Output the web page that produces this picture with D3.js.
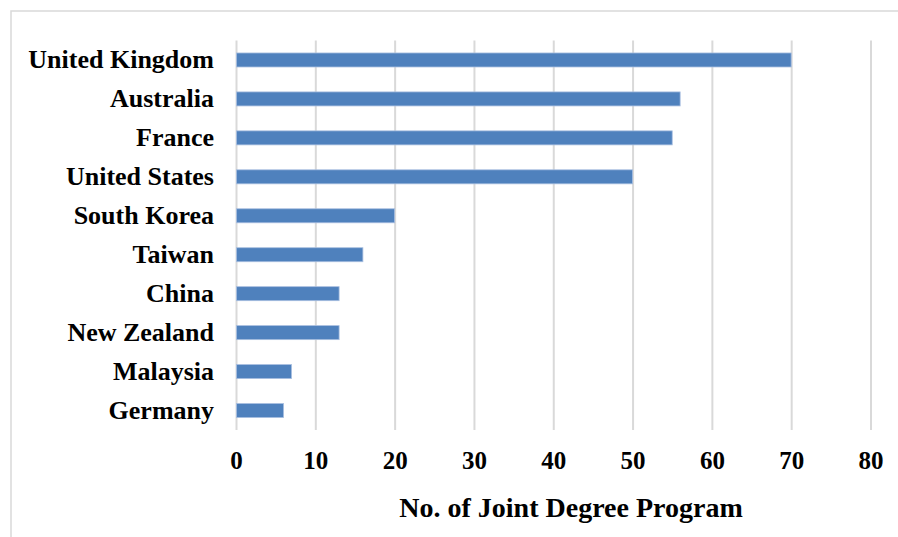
<!DOCTYPE html>
<html>
<head>
<meta charset="utf-8">
<script src="https://cdn.jsdelivr.net/npm/d3@7"></script>
<style>
html,body{margin:0;padding:0;background:#fff;}
svg{display:block;}
text{font-family:"Liberation Serif","Times New Roman",serif;font-weight:bold;fill:#000;}
</style>
</head>
<body>
<svg id="chart" width="898" height="537"></svg>
<script>
const categories = ["United Kingdom","Australia","France","United States","South Korea","Taiwan","China","New Zealand","Malaysia","Germany"];
const values = [70,56,55,50,20,16,13,13,7,6];
const xTicks = [0,10,20,30,40,50,60,70,80];
const xTitle = "No. of Joint Degree Program";

(function(){
const svg = d3.select("#chart");
const W = 898, H = 537;

// outer frame (cropped at right and bottom)
svg.append("rect").attr("x",11).attr("y",11).attr("width",W).attr("height",H)
  .attr("fill","#fff").attr("stroke","#d9d9d9").attr("stroke-width",1.5);

const pLeft = 236, pRight = 870.5, pTop = 40.5, pBottom = 430;
const x = d3.scaleLinear().domain([0,80]).range([pLeft,pRight]);
const y = d3.scaleBand().domain(categories).range([pTop,pBottom]).paddingInner(0.64).paddingOuter(0.32);

// gridlines + tick labels
const xAxis = d3.axisBottom(x).tickValues(xTicks).tickSize(-(pBottom-pTop)).tickPadding(0).tickFormat(d3.format("d"));
const gx = svg.append("g").attr("transform",`translate(0,${pBottom})`).call(xAxis);
gx.select(".domain").remove();
gx.selectAll(".tick line").attr("stroke","#d9d9d9").attr("stroke-width",2);
gx.selectAll(".tick text").attr("font-size",25).attr("y",39).attr("dy",0)
  .style("font-family",'"Liberation Serif",serif').style("font-weight","bold").attr("fill","#000");

// bars
svg.append("g").selectAll("rect").data(values).join("rect")
  .attr("x",x(0)+0.5)
  .attr("y",(d,i)=>y(categories[i]))
  .attr("width",d=>x(d)-x(0)-0.5)
  .attr("height",y.bandwidth())
  .attr("fill","#4f81bd")
  .attr("stroke","#a9bfe0").attr("stroke-width",0.8);

// category labels
const yAxis = d3.axisLeft(y).tickSize(0).tickPadding(22);
const gy = svg.append("g").attr("transform",`translate(${pLeft},0)`).call(yAxis);
gy.select(".domain").remove();
gy.selectAll(".tick text").attr("font-size",26).attr("dy","0.32em")
  .style("font-family",'"Liberation Serif",serif').style("font-weight","bold").attr("fill","#000");

// axis title
svg.append("text").attr("x",571).attr("y",517).attr("text-anchor","middle")
  .attr("font-size",28).text(xTitle);
})();
</script>
</body>
</html>
